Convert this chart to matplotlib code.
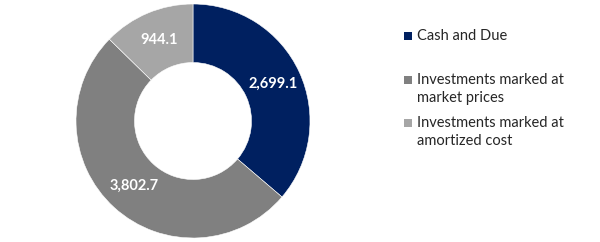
import matplotlib.pyplot as plt
from matplotlib.patches import Rectangle

plt.rcParams['font.family'] = ['Lato', 'DejaVu Sans']

# data
categories = ['Cash and Due', 'Investments marked at\nmarket prices',
              'Investments marked at\namortized cost']
values = [2699.1, 3802.7, 944.1]
colors = ['#002060', '#808080', '#A6A6A6']

W, H = 600, 242
fig = plt.figure(figsize=(6, 2.42), dpi=100)

# donut: centre ~ (193,121) px, radius ~117 px
ax = fig.add_axes([76 / W, 4 / H, 234 / W, 234 / H])
labels = [f'{v:,.1f}' for v in values]
wedges, texts = ax.pie(values, colors=colors, startangle=90, counterclock=False,
                       radius=1, labels=labels, labeldistance=0.75,
                       wedgeprops=dict(width=0.5, edgecolor='white', linewidth=0.4),
                       textprops=dict(color='white', fontsize=10.5, fontweight='bold'))
for t in texts:
    t.set_ha('center')
    t.set_va('center')
ax.set_xlim(-1, 1)
ax.set_ylim(-1, 1)
ax.set_aspect('equal')
ax.axis('off')

# legend, drawn by hand so the marker sits on the first line
ys = [36, 80, 123]
for lab, col, y in zip(categories, colors, ys):
    fig.patches.append(Rectangle((404 / W, (H - y - 4) / H), 8 / W, 8 / H,
                                 transform=fig.transFigure, facecolor=col,
                                 edgecolor='none'))
    fig.text(417 / W, (H - y + 7) / H, lab, fontsize=10.5, color='#262626',
             va='top', ha='left', linespacing=1.4)

fig.savefig('out.png', dpi=100)
